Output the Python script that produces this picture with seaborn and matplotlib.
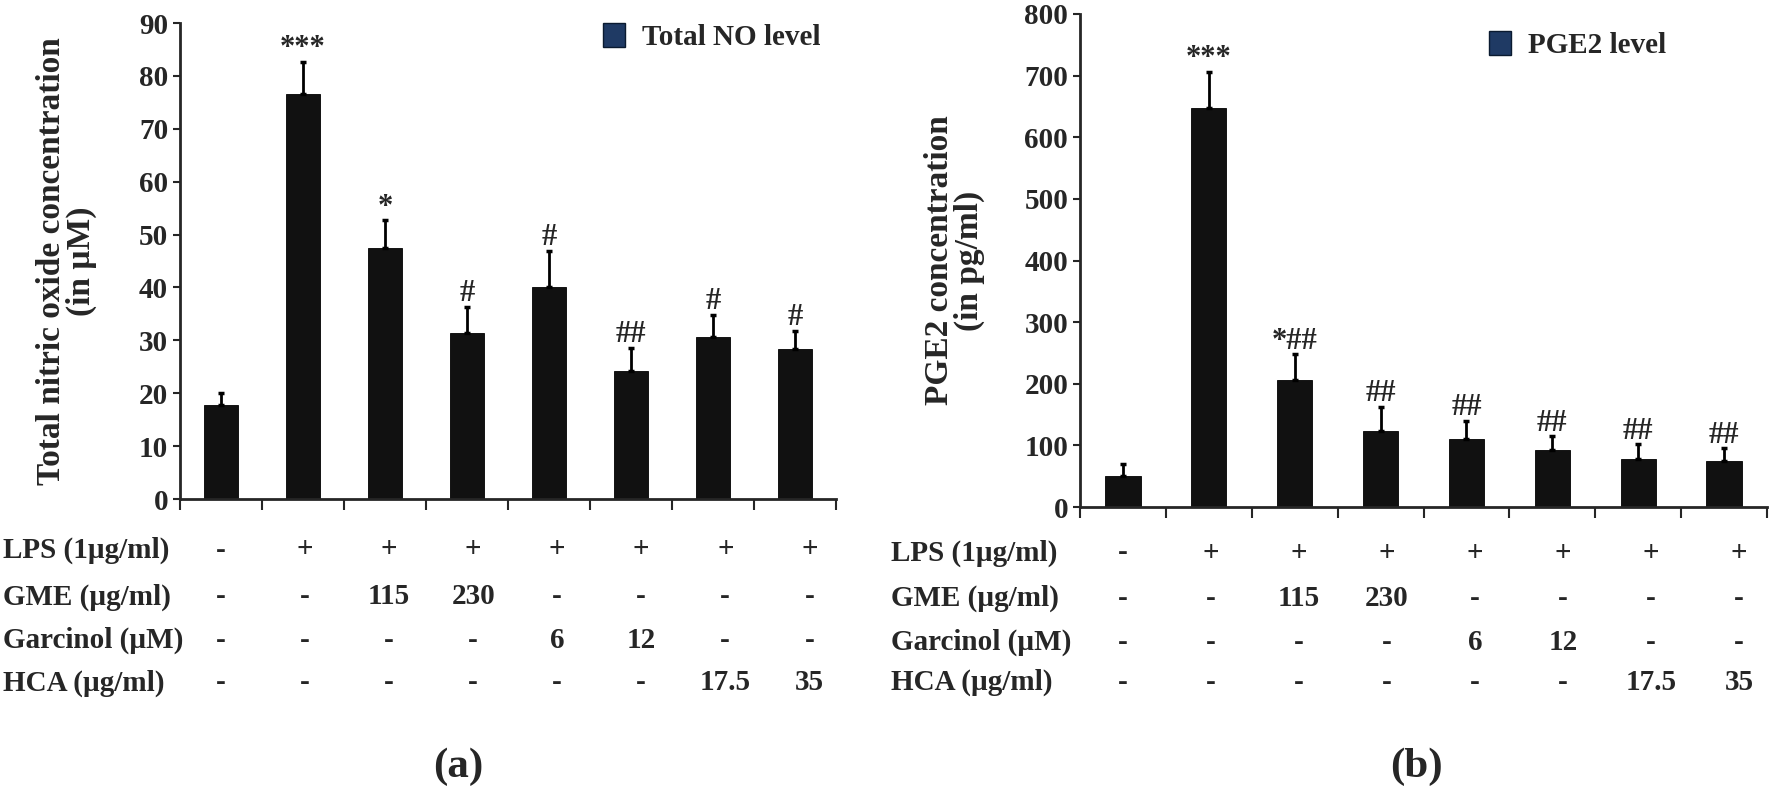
import numpy as np
import matplotlib
matplotlib.use("Agg")
import matplotlib.pyplot as plt
import matplotlib.transforms as mtransforms
from matplotlib.patches import Patch
import seaborn as sns

# treatment groups (same order in both panels)
groups = ["Control", "LPS", "LPS+GME115", "LPS+GME230",
          "LPS+Gar6", "LPS+Gar12", "LPS+HCA17.5", "LPS+HCA35"]

# (a) total NO, uM
no_mean = [17.8, 76.6, 47.5, 31.4, 40.1, 24.2, 30.7, 28.4]
no_err = [2.3, 6.1, 5.2, 4.9, 6.8, 4.4, 4.1, 3.4]
no_sig = ["", "***", "*", "#", "#", "##", "#", "#"]

# (b) PGE2, pg/ml
pge_mean = [51, 648, 206, 124, 111, 92, 78, 74]
pge_err = [19, 58, 42, 39, 29, 23, 24, 21]
pge_sig = ["", "***", "*##", "##", "##", "##", "##", "##"]

# treatment table below the bars
row_names = ["LPS (1\u00b5g/ml)", "GME (\u00b5g/ml)", "Garcinol (\u00b5M)", "HCA (\u00b5g/ml)"]
lps = ["-", "+", "+", "+", "+", "+", "+", "+"]
gme = ["-", "-", "115", "230", "-", "-", "-", "-"]
garcinol = ["-", "-", "-", "-", "6", "12", "-", "-"]
hca = ["-", "-", "-", "-", "-", "-", "17.5", "35"]
table_rows = [lps, gme, garcinol, hca]

sns.set_style("ticks")
plt.rcParams["font.family"] = ["Liberation Serif", "DejaVu Serif"]
plt.rcParams["font.weight"] = "bold"
plt.rcParams["axes.labelweight"] = "bold"

BAR = "#111111"
LEG = "#1f3a64"
FS = 21

fig = plt.figure(figsize=(17.7, 7.92), dpi=100)
ax1 = fig.add_axes([180 / 1770, 1 - 499 / 792, 656 / 1770, 476 / 792])
ax2 = fig.add_axes([1080 / 1770, 1 - 507 / 792, 687 / 1770, 493 / 792])


def draw_panel(ax, means, errs, sig, ymax, ystep, ylabel, legend_label,
               leg_anchor, label_x, bar_w):
    sns.barplot(x=groups, y=means, order=groups, color=BAR, saturation=1,
                width=bar_w, errorbar=None, edgecolor="black", linewidth=0.6, ax=ax)
    xs = np.arange(len(groups))
    ax.errorbar(xs, means, yerr=[np.zeros(len(errs)), errs], fmt="none",
                ecolor="black", elinewidth=2, capsize=2.5, capthick=2.5)
    for x, m, e, s in zip(xs, means, errs, sig):
        if s:
            ax.annotate(s, (x, m + e), xytext=(0, 4), textcoords="offset points",
                        ha="center", va="baseline", fontsize=FS + 1, fontweight="bold")
    ax.set_ylim(0, ymax)
    ax.set_xlim(-0.5, len(groups) - 0.5)
    ax.set_yticks(np.arange(0, ymax + 1, ystep))
    ax.tick_params(axis="y", labelsize=FS, length=5, width=1.5, direction="out")
    ax.set_xticks(np.arange(-0.5, len(groups), 1))
    ax.set_xticklabels([])
    ax.tick_params(axis="x", length=8, width=1.5, direction="out")
    for lab in ax.get_yticklabels():
        lab.set_fontweight("bold")
    sns.despine(ax=ax)
    ax.spines["left"].set_linewidth(2)
    ax.spines["bottom"].set_linewidth(2)
    ax.set_xlabel("")
    ax.set_ylabel(ylabel, fontsize=24, fontweight="bold", linespacing=0.95)
    ax.yaxis.set_label_coords(label_x, 0.5)
    handle = Patch(facecolor=LEG, edgecolor="#0a1a30")
    ax.legend([handle], [legend_label], loc="upper left", bbox_to_anchor=leg_anchor,
              frameon=False, handlelength=0.75, handleheight=0.9,
              handletextpad=0.6, borderpad=0, borderaxespad=0,
              prop={"weight": "bold", "size": FS})


draw_panel(ax1, no_mean, no_err, no_sig, 90, 10,
           "Total nitric oxide concentration\n(in \u00b5M)", "Total NO level",
           (0.645, 1.0), -0.127, 0.41)
draw_panel(ax2, pge_mean, pge_err, pge_sig, 800, 100,
           "PGE2 concentration\n(in pg/ml)", "PGE2 level",
           (0.595, 0.965), -0.138, 0.41)


def draw_table(ax, label_x, row_y):
    trans = mtransforms.blended_transform_factory(ax.transData, fig.transFigure)
    for name, vals, y in zip(row_names, table_rows, row_y):
        fig.text(label_x, y, name, ha="left", va="center", fontsize=FS, fontweight="bold")
        for i, v in enumerate(vals):
            ax.text(i * 1.025, y, v, transform=trans, ha="center", va="center",
                    fontsize=FS, fontweight="bold", clip_on=False)


draw_table(ax1, 3 / 1770, [1 - 550 / 792, 1 - 597 / 792, 1 - 640 / 792, 1 - 683 / 792])
draw_table(ax2, 891 / 1770, [1 - 553 / 792, 1 - 598 / 792, 1 - 642 / 792, 1 - 682 / 792])

fig.text(458 / 1770, 1 - 767 / 792, "(a)", ha="center", va="center", fontsize=31, fontweight="bold")
fig.text(1416 / 1770, 1 - 767 / 792, "(b)", ha="center", va="center", fontsize=31, fontweight="bold")

fig.savefig("out.png", dpi=100)
